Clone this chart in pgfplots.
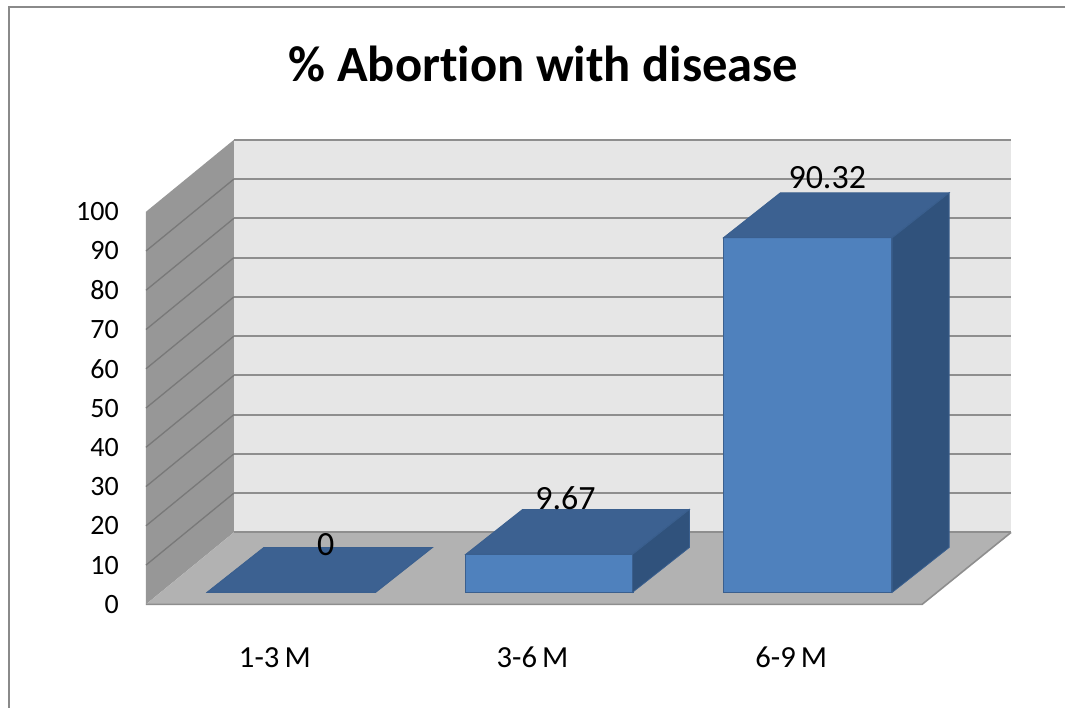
\documentclass[border=0pt]{standalone}
\usepackage{pgfplots}
\pgfplotsset{compat=1.18}
\usepackage{fontspec}
\setmainfont{Carlito}[Ligatures=NoCommon]

\definecolor{barfront}{HTML}{4F81BD}
\definecolor{bartop}{HTML}{3C6191}
\definecolor{barside}{HTML}{30527C}
\definecolor{baredge}{HTML}{3A5F8E}
\definecolor{wallback}{HTML}{E6E6E6}
\definecolor{wallside}{HTML}{979797}
\definecolor{floorc}{HTML}{B2B2B2}
\definecolor{gridc}{HTML}{8E8E8E}
\definecolor{framec}{HTML}{8A8A8A}

\begin{document}
\begin{tikzpicture}
\begin{axis}[
    scale only axis,
    width=799.5pt, height=531.75pt,
    xmin=0, xmax=1066,
    ymin=-29.52, ymax=150.89,
    axis line style={draw=none},
    major tick length=0pt,
    xtick=\empty,
    ytick={0,10,...,100},
    /pgf/number format/assume math mode=true,
    yticklabel style={font=\fontsize{21}{21}\selectfont, anchor=east,
        inner sep=0pt, xshift=89.25pt, yshift=-9pt},
    clip=false,
]

% frame (top and left edges only)
\draw[framec, line width=1.5pt] (axis cs:1066,149.11) -- (axis cs:9,149.11) -- (axis cs:9,-29.52);

% back wall
\fill[wallback] (axis cs:234,15.27) rectangle (axis cs:1012,115.27);
% side wall
\fill[wallside] (axis cs:146,-3.05) -- (axis cs:234,15.27) -- (axis cs:234,115.27)
    -- (axis cs:146,96.95) -- cycle;
\pgfplotsinvokeforeach{1,...,9}{
    \draw[gridc!85!black, line width=1pt] (axis cs:146,{-3.05+10*#1}) -- (axis cs:234,{15.27+10*#1});
}
% floor
\fill[floorc] (axis cs:146,-3.05) -- (axis cs:923,-3.05) -- (axis cs:1012,15.27)
    -- (axis cs:234,15.27) -- cycle;
\draw[gridc, line width=1.2pt] (axis cs:146,-3.05) -- (axis cs:923,-3.05) -- (axis cs:1012,15.27);
% back wall grid
\pgfplotsinvokeforeach{0,...,10}{
    \draw[gridc, line width=1.5pt] (axis cs:234,{15.27+10*#1}) -- (axis cs:1012,{15.27+10*#1});
}

% bar fronts
\addplot[ybar, bar width=168, fill=barfront, draw=baredge, line width=0.6pt]
    coordinates {(291.5,0) (549.5,9.67) (808.5,90.32)};

% bar tops
\addplot[fill=bartop, draw=baredge, line width=0.6pt]
    coordinates {(207,0) (376,0) (433,11.45) (264,11.45)} -- cycle;
\addplot[fill=bartop, draw=baredge, line width=0.6pt]
    coordinates {(466,9.67) (633,9.67) (690,21.12) (523,21.12)} -- cycle;
\addplot[fill=bartop, draw=baredge, line width=0.6pt]
    coordinates {(724,90.32) (893,90.32) (950,101.77) (781,101.77)} -- cycle;
% bar sides
\addplot[fill=barside, draw=baredge, line width=0.6pt]
    coordinates {(633,0) (690,11.45) (690,21.12) (633,9.67)} -- cycle;
\addplot[fill=barside, draw=baredge, line width=0.6pt]
    coordinates {(893,0) (950,11.45) (950,101.77) (893,90.32)} -- cycle;

% value labels
\node[font=\fontsize{25.5}{25.5}\selectfont, anchor=base] at (axis cs:326,9.41) {0};
\node[font=\fontsize{25.5}{25.5}\selectfont, anchor=base] at (axis cs:566,21.1) {9.67};
\node[font=\fontsize{25.5}{25.5}\selectfont, anchor=base] at (axis cs:828,102.8) {90.32};

% category labels
\node[font=\fontsize{23}{23}\selectfont, anchor=base] at (axis cs:275,-19.08) {1-3\,M};
\node[font=\fontsize{23}{23}\selectfont, anchor=base] at (axis cs:533,-19.08) {3-6\,M};
\node[font=\fontsize{23}{23}\selectfont, anchor=base] at (axis cs:792,-19.08) {6-9\,M};

% title
\node[font=\bfseries\fontsize{38}{38}\selectfont, anchor=base] at (axis cs:544,130.03)
    {\% Abortion with disease};
\end{axis}
\end{tikzpicture}
\end{document}
